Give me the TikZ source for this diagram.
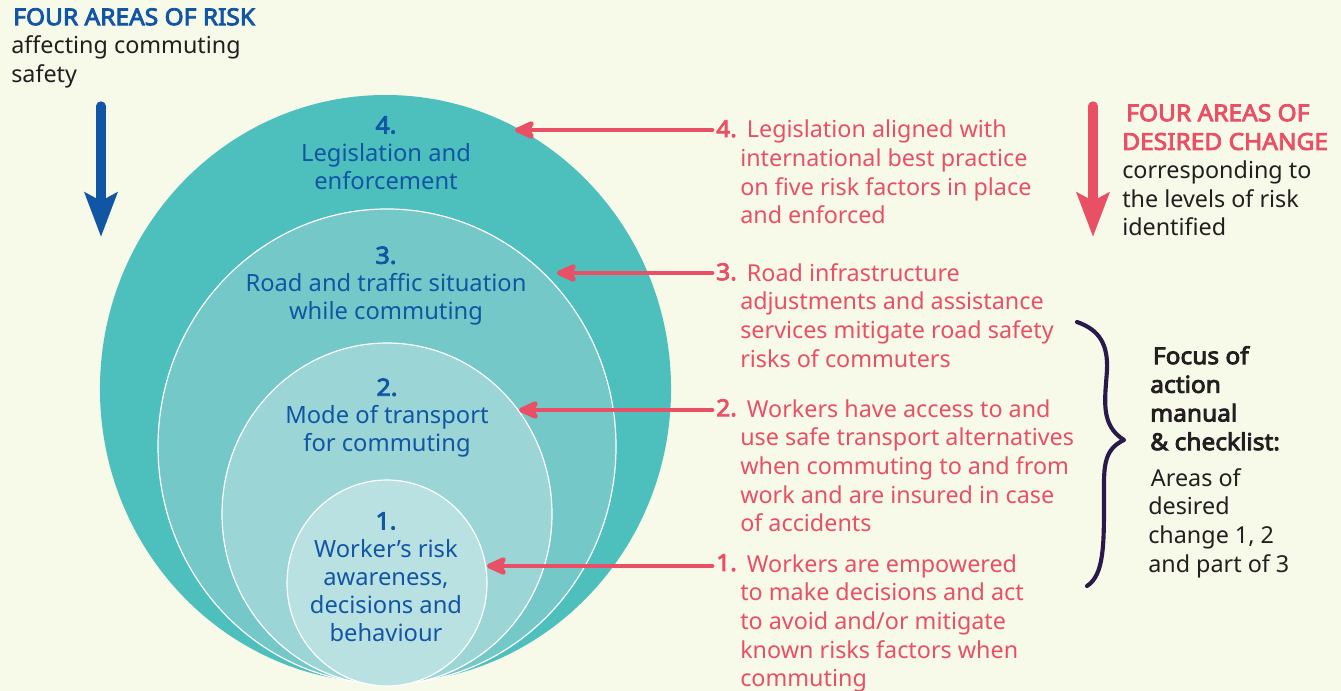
\documentclass[tikz,border=0pt]{standalone}
\usepackage{fontspec}
\setmainfont{Noto Sans}[AutoFakeBold=2.6]
\newfontfamily\bfam{Noto Sans}[FakeBold=3.6,FakeStretch=1.05]
\usetikzlibrary{arrows.meta,shapes.geometric}
\definecolor{bg}{HTML}{F7F9E9}
\definecolor{tealD}{HTML}{4DBFBD}
\definecolor{tealC}{HTML}{74C9C8}
\definecolor{tealB}{HTML}{9BD5D5}
\definecolor{tealA}{HTML}{BAE1E1}
\definecolor{blu}{HTML}{1155A5}
\definecolor{pnk}{HTML}{E94F65}
\definecolor{ink}{HTML}{231F20}
\definecolor{bracecol}{HTML}{2A1A4C}
\begin{document}
\begin{tikzpicture}[x=0.75pt,y=-0.75pt,
  ring/.style={ellipse,inner sep=0pt,outer sep=0pt,draw=white,line width=0.9pt},
  lvl/.style={text=blu,align=center,font=\fontsize{17.8}{21}\selectfont},
  ptxt/.style={text=pnk,align=left,anchor=north west,inner sep=0pt,font=\fontsize{17.5}{21.5}\selectfont},
  pnum/.style={text=pnk,anchor=north west,inner sep=0pt,font=\fontsize{17.5}{21.5}\selectfont\bfam},
  btxt/.style={text=ink,align=left,anchor=north west,inner sep=0pt,font=\fontsize{17.5}{21.5}\selectfont},
  parrow/.style={draw=pnk,line width=3.6pt,line cap=round,-{Stealth[length=19pt,width=17pt,inset=5pt,round]}},
  bigarrow/.style={line width=7pt,line cap=round,-{Stealth[length=33pt,width=24pt,inset=6pt]}}
]
\fill[bg] (0,0) rectangle (1341,691);
\useasboundingbox (0,0) rectangle (1341,691);

% rings
\node[ring,draw=none,fill=tealD,minimum width=428.3pt,minimum height=441pt] (e4) at (385.5,389) {};
\node[ring,fill=tealC,minimum width=343.5pt,minimum height=356.3pt] (e3) at (387,446.5) {};
\node[ring,fill=tealB,minimum width=247.5pt,minimum height=256.5pt] (e2) at (387,514) {};
\node[ring,fill=tealA,minimum width=150pt,minimum height=154.5pt] (e1) at (387,583) {};

% level labels
\node[lvl] (l4) at (386,153) {{\bfam 4.}\\Legislation and\\enforcement};
\node[lvl] (l3) at (386,286) {{\bfam 3.}\\Road and traffic situation\\while commuting};
\node[lvl] (l2) at (387,418) {{\bfam 2.}\\Mode of transport\\for commuting};
\node[lvl] (l1) at (386,577) {{\bfam 1.}\\Worker’s risk\\awareness,\\decisions and\\behaviour};

% left header
\node[anchor=north west,inner sep=0pt,align=left,font=\fontsize{17.5}{21.5}\selectfont] (hl) at (11,8)
  {\textcolor{blu}{\bfam\hspace*{1.5pt}FOUR AREAS OF RISK}\\\textcolor{ink}{affecting commuting}\\\textcolor{ink}{safety}};
\coordinate (blA) at (101,106);
\coordinate (blB) at (101,237);
\draw[bigarrow,draw=blu,fill=blu] (blA) -- (blB);

% right header
\node[anchor=north west,inner sep=0pt,align=left,font=\fontsize{17.5}{21.5}\selectfont] (hr) at (1122,104)
  {\textcolor{pnk}{\bfam\hspace*{3pt}FOUR AREAS OF}\\\textcolor{pnk}{\bfam DESIRED CHANGE}\\\textcolor{ink}{corresponding to}\\\textcolor{ink}{the levels of risk}\\\textcolor{ink}{identified}};
\coordinate (prA) at (1093,106);
\coordinate (prB) at (1093,237);
\draw[bigarrow,draw=pnk,fill=pnk] (prA) -- (prB);

% pink items
\node[pnum] (n4) at (716,120) {4.};
\node[ptxt] (t4) at (740,120) {\hspace*{5pt}Legislation aligned with\\international best practice\\on five risk factors in place\\and enforced};
\node[pnum] (n3) at (716,263) {3.};
\node[ptxt] (t3) at (740,263) {\hspace*{5pt}Road infrastructure\\adjustments and assistance\\services mitigate road safety\\risks of commuters};
\node[pnum] (n2) at (716,399) {2.};
\node[ptxt] (t2) at (740,399) {\hspace*{5pt}Workers have access to and\\use safe transport alternatives\\when commuting to and from\\work and are insured in case\\of accidents};
\node[pnum] (n1) at (716,554) {1.};
\node[ptxt] (t1) at (740,554) {\hspace*{5pt}Workers are empowered\\to make decisions and act\\to avoid and/or mitigate\\known risks factors when\\commuting};

\coordinate (p4) at (515,130);
\coordinate (p3) at (557,273);
\coordinate (p2) at (519,410);
\coordinate (p1) at (487,566);
\draw[parrow] ([xshift=-3pt]n4.west |- p4) -- (p4);
\draw[parrow] ([xshift=-3pt]n3.west |- p3) -- (p3);
\draw[parrow] ([xshift=-3pt]n2.west |- p2) -- (p2);
\draw[parrow] ([xshift=-3pt]n1.west |- p1) -- (p1);

% brace
\coordinate (bA) at (1077,322);
\coordinate (bT) at (1124,440);
\coordinate (bB) at (1087,586);
\draw[bracecol,line width=3.1pt,line cap=round,line join=round]
  (bA) .. controls (1100,330) and (1108,345) .. (1107,370)
  .. controls (1105,400) and (1100,425) .. (bT)
  .. controls (1102,450) and (1104,470) .. (1104,500)
  .. controls (1104,545) and (1104,575) .. (bB);

% focus text
\node[btxt] (f1) at (1150,346) {\bfam\hspace*{2pt}Focus of\\\bfam action\\\bfam manual\\\bfam \& checklist:};
\node[btxt] (f2) at (1148,468) {\hspace*{2pt}Areas of\\desired\\change 1, 2\\and part of 3};
\end{tikzpicture}
\end{document}
